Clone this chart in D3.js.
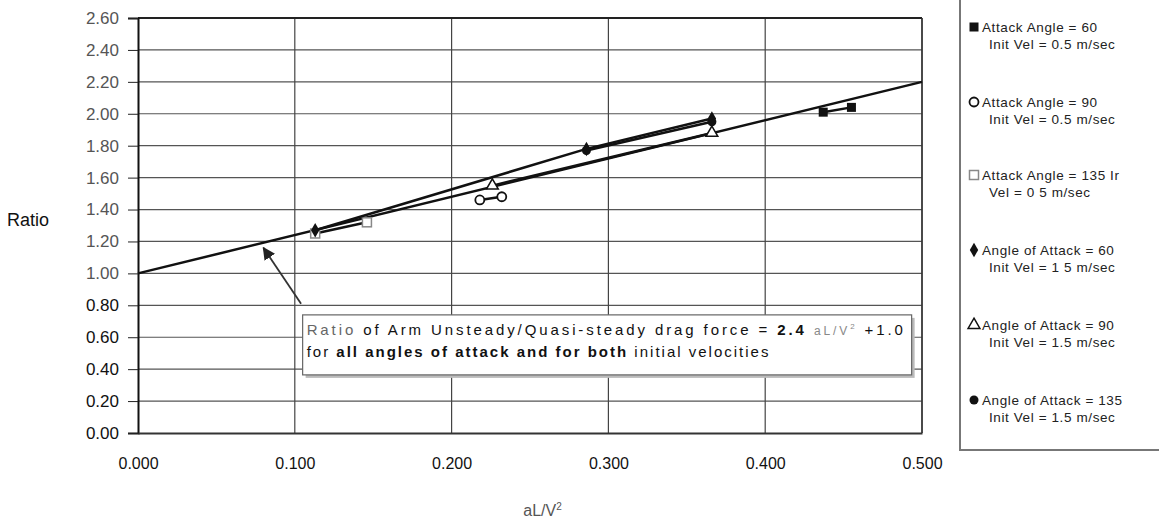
<!DOCTYPE html>
<html>
<head>
<meta charset="utf-8">
<script src="https://cdn.jsdelivr.net/npm/d3@7"></script>
<style>
  body { margin: 0; background: #fff; }
  svg { display: block; font-family: "Liberation Sans", Arial, sans-serif; }
</style>
</head>
<body>
<div id="chart"></div>
<script>
// values
const xTicks = [0, 0.1, 0.2, 0.3, 0.4, 0.5];
const yTicks = [0, 0.2, 0.4, 0.6, 0.8, 1.0, 1.2, 1.4, 1.6, 1.8, 2.0, 2.2, 2.4, 2.6];

const seriesNames = [
    ["Attack Angle = 60", "Init Vel = 0.5 m/sec"],
    ["Attack Angle = 90", "Init Vel = 0.5 m/sec"],
    ["Attack Angle = 135 Ir", "Vel = 0 5 m/sec"],
    ["Angle of Attack = 60", "Init Vel = 1 5 m/sec"],
    ["Angle of Attack = 90", "Init Vel = 1.5 m/sec"],
    ["Angle of Attack = 135", "Init Vel = 1.5 m/sec"]
];
const seriesSymbols = ["square", "circle", "square-open", "diamond", "triangle", "circle-filled"];

const s1x = [0.437, 0.455], s1y = [2.01, 2.04];
const s2x = [0.218, 0.232], s2y = [1.46, 1.48];
const s3x = [0.113, 0.146], s3y = [1.25, 1.32];
const s4x = [0.113, 0.286, 0.366], s4y = [1.27, 1.78, 1.97];
const s5x = [0.226, 0.366], s5y = [1.55, 1.88];
const s6x = [0.286, 0.366], s6y = [1.77, 1.95];

// fit: ratio = 2.4 aL/V^2 + 1.0
const fitSlope = 2.4, fitIntercept = 1.0;
const fitX = [0, 0.5];

const seriesX = [s1x, s2x, s3x, s4x, s5x, s6x];
const seriesY = [s1y, s2y, s3y, s4y, s5y, s6y];

const W = 1159, H = 526;
const margin = {top: 18, right: 237, bottom: 93, left: 138};
const width = W - margin.left - margin.right;
const height = H - margin.top - margin.bottom;

const svg = d3.select("#chart").append("svg")
    .attr("width", W)
    .attr("height", H);

const g = svg.append("g")
    .attr("transform", `translate(${margin.left},${margin.top})`);

const x = d3.scaleLinear().domain([0, 0.5]).range([0, width]);
const y = d3.scaleLinear().domain([0, 2.6]).range([height, 0]);

// grid
g.append("g").selectAll("line")
    .data(yTicks.slice(1))
    .join("line")
    .attr("x1", 0).attr("x2", width)
    .attr("y1", d => y(d)).attr("y2", d => y(d))
    .attr("stroke", "#555").attr("stroke-width", 1.2);

g.append("g").selectAll("line")
    .data(xTicks.slice(1))
    .join("line")
    .attr("x1", d => x(d)).attr("x2", d => x(d))
    .attr("y1", 0).attr("y2", height)
    .attr("stroke", "#444").attr("stroke-width", 1.2);

// top / right border
g.append("line").attr("x1", 0).attr("x2", width).attr("y1", 0).attr("y2", 0)
    .attr("stroke", "#222").attr("stroke-width", 2);
g.append("line").attr("x1", width).attr("x2", width).attr("y1", 0).attr("y2", height)
    .attr("stroke", "#333").attr("stroke-width", 1.5);

// axes
const yAxis = d3.axisLeft(y).tickValues(yTicks).tickFormat(d3.format(".2f")).tickSize(10).tickPadding(9);
const xAxis = d3.axisBottom(x).tickValues(xTicks).tickFormat(d3.format(".3f")).tickSize(0).tickPadding(25);

const yG = g.append("g").call(yAxis);
yG.select(".domain").attr("stroke", "#111").attr("stroke-width", 2);
yG.selectAll("text").attr("font-size", 17).attr("fill", (d) => d > 0.9 ? "#555" : "#111");
yG.selectAll(".tick line").attr("stroke", "#222");

const xG = g.append("g").attr("transform", `translate(0,${height})`).call(xAxis);
xG.select(".domain").attr("stroke", "#333").attr("stroke-width", 2);
xG.selectAll("text").attr("font-size", 16).attr("fill", "#111");

// axis titles
svg.append("text")
    .attr("x", 7).attr("y", 226)
    .attr("font-size", 18).attr("fill", "#111")
    .text("Ratio");

svg.append("text")
    .attr("x", margin.left + x(0.258)).attr("y", 516)
    .attr("text-anchor", "middle")
    .attr("font-size", 16).attr("fill", "#555")
    .html('aL/V<tspan dy="-6" font-size="10">2</tspan>');

// fit line
g.append("line")
    .attr("x1", x(fitX[0])).attr("y1", y(fitSlope * fitX[0] + fitIntercept))
    .attr("x2", x(fitX[1])).attr("y2", y(fitSlope * fitX[1] + fitIntercept))
    .attr("stroke", "#111").attr("stroke-width", 2.5);

// series
const line = d3.line().x(d => x(d[0])).y(d => y(d[1]));
const seriesData = seriesX.map((xs, i) => xs.map((v, j) => [v, seriesY[i][j]]));

function drawMarker(sel, sym, size) {
    if (sym === "square") {
        sel.append("rect").attr("x", -size).attr("y", -size).attr("width", size * 2).attr("height", size * 2)
            .attr("fill", "#111");
    } else if (sym === "square-open") {
        sel.append("rect").attr("x", -size).attr("y", -size).attr("width", size * 2).attr("height", size * 2)
            .attr("fill", "#fff").attr("stroke", "#888").attr("stroke-width", 1.5);
    } else if (sym === "circle") {
        sel.append("circle").attr("r", size).attr("fill", "#fff").attr("stroke", "#111").attr("stroke-width", 1.8);
    } else if (sym === "circle-filled") {
        sel.append("circle").attr("r", size).attr("fill", "#111");
    } else if (sym === "diamond") {
        sel.append("path").attr("d", d3.symbol(d3.symbolDiamond, size * size * 3)()).attr("fill", "#111");
    } else if (sym === "triangle") {
        sel.append("path").attr("d", d3.symbol(d3.symbolTriangle, size * size * 3)())
            .attr("fill", "#fff").attr("stroke", "#111").attr("stroke-width", 1.5);
    }
}

seriesData.forEach((pts, i) => {
    g.append("path")
        .datum(pts)
        .attr("d", line)
        .attr("fill", "none")
        .attr("stroke", "#111")
        .attr("stroke-width", 2.5);
    pts.forEach(p => {
        const m = g.append("g").attr("transform", `translate(${x(p[0])},${y(p[1])})`);
        drawMarker(m, seriesSymbols[i], 4.5);
    });
});

// annotation with arrow
svg.append("defs").append("marker")
    .attr("id", "arrow")
    .attr("viewBox", "0 0 10 10")
    .attr("refX", 9).attr("refY", 5)
    .attr("markerWidth", 7).attr("markerHeight", 7)
    .attr("orient", "auto-start-reverse")
    .append("path").attr("d", "M0,0 L10,5 L0,10 z").attr("fill", "#222");

g.append("line")
    .attr("x1", x(0.104)).attr("y1", y(0.81))
    .attr("x2", x(0.080)).attr("y2", y(1.16))
    .attr("stroke", "#333").attr("stroke-width", 1.8)
    .attr("marker-end", "url(#arrow)");

const box = g.append("g").attr("transform", `translate(${x(0.105)},${y(0.74)})`);
box.append("rect")
    .attr("x", 3).attr("y", 3)
    .attr("width", 609).attr("height", 60)
    .attr("fill", "#bbb");
box.append("rect")
    .attr("width", 609).attr("height", 60)
    .attr("fill", "#fff").attr("stroke", "#666").attr("stroke-width", 1.2);

const t1 = box.append("text").attr("x", 4).attr("y", 20).attr("font-size", 15)
    .attr("letter-spacing", 2.9).attr("fill", "#111");
t1.append("tspan").attr("fill", "#666").text("Ratio");
t1.append("tspan").text(" of Arm Unsteady/Quasi-steady drag force = ");
t1.append("tspan").attr("font-weight", "bold").text("2.4 ");
t1.append("tspan").attr("fill", "#888").attr("font-size", 12).text("aL/V");
t1.append("tspan").attr("fill", "#888").attr("font-size", 8).attr("dy", -6).text("2");
t1.append("tspan").attr("dy", 6).text(" +1.0");

const t2 = box.append("text").attr("x", 4).attr("y", 42).attr("font-size", 15)
    .attr("letter-spacing", 2.0).attr("fill", "#111");
t2.append("tspan").text("for ");
t2.append("tspan").attr("font-weight", "bold").text("all angles of attack and for both ");
t2.append("tspan").text("initial velocities");

// legend
const legend = svg.append("g").attr("transform", "translate(960,0)");
legend.append("rect")
    .attr("x", 0).attr("y", -2)
    .attr("width", 205).attr("height", 452)
    .attr("fill", "#fff").attr("stroke", "#777").attr("stroke-width", 2);

const legendY = [32, 107, 180, 255, 330, 405];
seriesNames.forEach((name, i) => {
    const item = legend.append("g").attr("transform", `translate(0,${legendY[i]})`);
    const m = item.append("g").attr("transform", "translate(14,-5)");
    drawMarker(m, seriesSymbols[i], 4.5);
    item.append("text").attr("x", 22).attr("y", 0)
        .attr("font-size", 13.5).attr("letter-spacing", 0.6).attr("fill", "#222").text(name[0]);
    item.append("text").attr("x", 29).attr("y", 17)
        .attr("font-size", 13.5).attr("letter-spacing", 0.6).attr("fill", "#222").text(name[1]);
});
</script>
</body>
</html>
